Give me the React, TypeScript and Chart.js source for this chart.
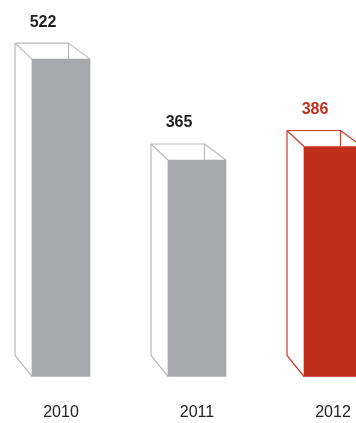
import React, { useEffect, useRef } from "react";
import { Chart, registerables } from "chart.js";

Chart.register(...registerables);

const categories = ["2010", "2011", "2012"];
const values = [522, 365, 386];
const axisMin = 28;
const axisMax = 614;
const barColors = ["#a7a8ab", "#a7a8ab", "#c12e1c"];
const lineColors = ["#b9b9b9", "#b9b9b9", "#cf3a2a"];
const labelColors = ["#222222", "#222222", "#c12e1c"];

const W = 356;
const H = 423;

const boxPlugin = {
  id: "box3d",
  beforeDatasetsDraw(chart: any) {
    const ctx = chart.ctx;
    const meta = chart.getDatasetMeta(0);
    meta.data.forEach((bar: any, i: number) => {
      const p = bar.getProps(["x", "y", "base", "width"], true);
      const fl = p.x - p.width / 2;
      const fr = p.x + p.width / 2;
      const ft = p.y;
      const fb = p.base;
      const bl = fl - 17;
      const br = fl + 36.5;
      const bt = ft - 16;
      const bb = fb - 21;
      ctx.save();
      ctx.strokeStyle = lineColors[i];
      ctx.lineWidth = 1.2;
      ctx.beginPath();
      ctx.moveTo(bl, bt); ctx.lineTo(br, bt);
      ctx.moveTo(bl, bt); ctx.lineTo(fl, ft);
      ctx.moveTo(br, bt); ctx.lineTo(fr, ft);
      ctx.moveTo(br, bt); ctx.lineTo(br, ft);
      ctx.moveTo(bl, bt); ctx.lineTo(bl, bb);
      ctx.lineTo(fl, fb);
      ctx.stroke();
      ctx.restore();
    });
  },
  afterDatasetsDraw(chart: any) {
    const ctx = chart.ctx;
    const meta = chart.getDatasetMeta(0);
    meta.data.forEach((bar: any, i: number) => {
      const p = bar.getProps(["x", "y", "base", "width"], true);
      ctx.save();
      ctx.textAlign = "center";
      ctx.textBaseline = "middle";
      ctx.fillStyle = labelColors[i];
      ctx.font = "bold 16px 'Liberation Sans', Arial, sans-serif";
      ctx.fillText(String(values[i]), p.x - 18, p.y - 37);
      ctx.fillStyle = "#222222";
      ctx.font = "16px 'Liberation Sans', Arial, sans-serif";
      ctx.fillText(categories[i], p.x, p.base + 36);
      ctx.restore();
    });
  },
};

export default function App() {
  const ref = useRef<HTMLCanvasElement | null>(null);
  useEffect(() => {
    if (!ref.current) return;
    const chart = new Chart(ref.current, {
      type: "bar",
      data: {
        labels: categories,
        datasets: [
          {
            data: values,
            base: axisMin,
            backgroundColor: barColors,
            borderWidth: 0,
            barThickness: 58,
            clip: false as any,
          } as any,
        ],
      },
      options: {
        animation: false,
        responsive: false,
        maintainAspectRatio: false,
        layout: { padding: { left: 61, right: 23, top: 0, bottom: 46.5 } },
        plugins: { legend: { display: false }, tooltip: { enabled: false } },
        scales: {
          x: { type: "category", display: false, offset: false },
          y: { type: "linear", display: false, min: axisMin, max: axisMax },
        },
      },
      plugins: [boxPlugin],
    });
    return () => chart.destroy();
  }, []);
  return (
    <div style={{ position: "fixed", left: 0, top: 0, width: W, height: H, background: "#fff" }}>
      <canvas ref={ref} width={W} height={H} style={{ width: W, height: H, display: "block" }} />
    </div>
  );
}
